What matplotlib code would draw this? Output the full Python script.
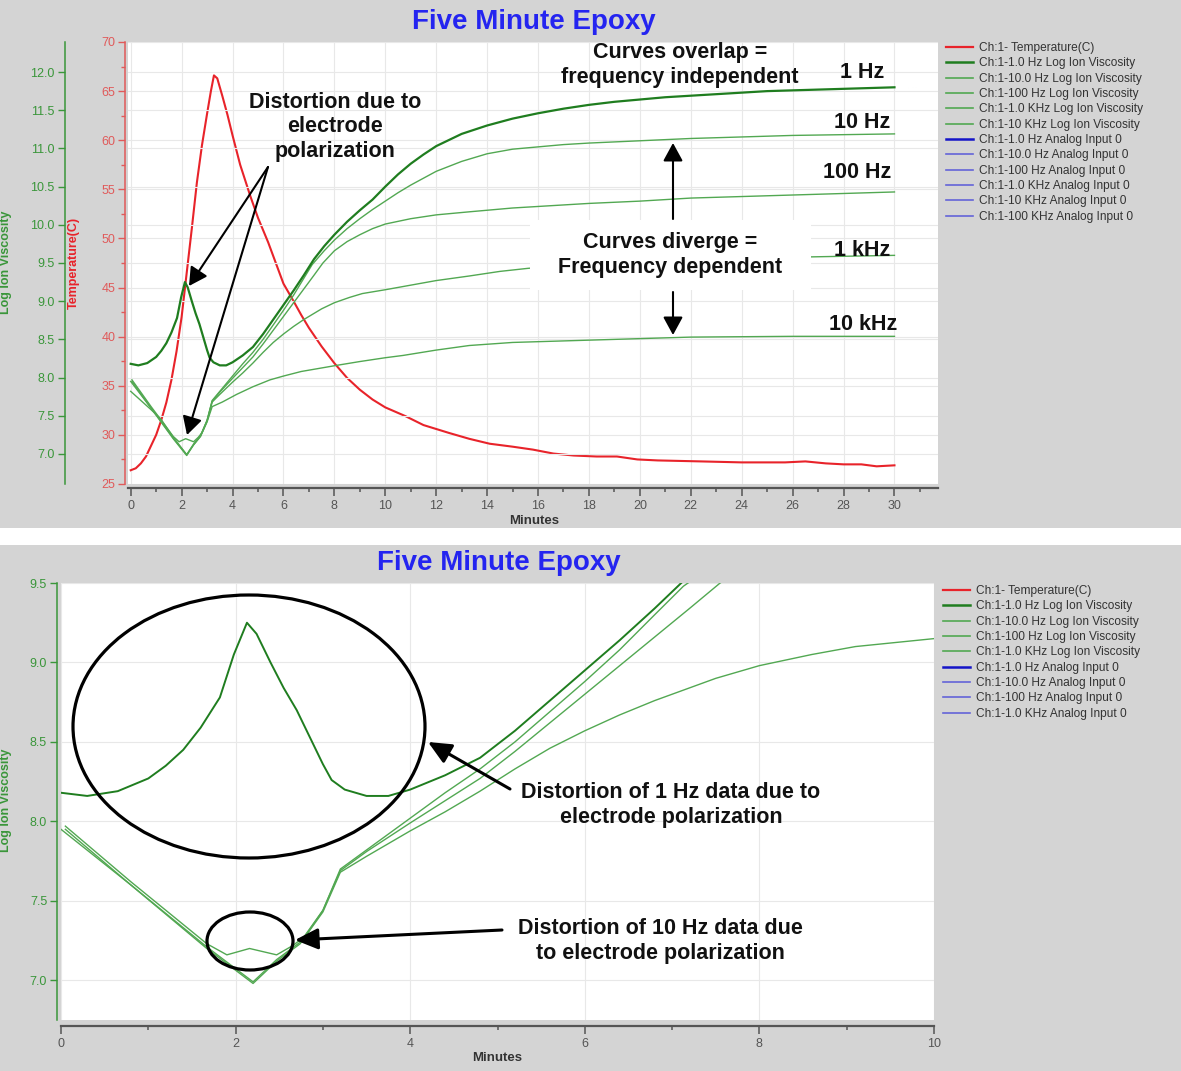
import matplotlib
matplotlib.use("Agg")
import matplotlib.pyplot as plt
from matplotlib.patches import Rectangle, Ellipse, FancyArrowPatch
from matplotlib.lines import Line2D
from matplotlib.ticker import FixedLocator, FormatStrFormatter

plt.rcParams['font.family'] = ['Liberation Sans', 'DejaVu Sans']

# ---------------- data ----------------
minutes_temp = [0.0, 0.2, 0.4, 0.6, 0.8, 1.0, 1.2, 1.4, 1.6, 1.8, 2.0, 2.2, 2.4, 2.6, 2.8,
                3.0, 3.15, 3.27, 3.4, 3.6, 3.8, 4.0, 4.3, 4.7, 5.0, 5.4, 5.7, 6.0, 6.4,
                6.7, 7.0, 7.5, 8.0, 8.5, 9.0, 9.5, 10.0, 10.8, 11.5, 12.5, 13.3, 14.1,
                15.0, 15.8, 16.6, 17.4, 18.3, 19.1, 19.9, 20.7, 22.4, 24.0, 25.7, 26.5,
                27.3, 28.0, 28.7, 29.3, 30.0]
temperature_c = [26.4, 26.6, 27.1, 27.8, 28.9, 30.0, 31.5, 33.3, 35.6, 38.5, 42.0, 46.5,
                 51.0, 55.7, 59.5, 62.7, 65.0, 66.6, 66.3, 64.5, 62.6, 60.5, 57.5, 54.3,
                 52.1, 49.6, 47.5, 45.4, 43.6, 42.2, 40.9, 39.0, 37.3, 35.8, 34.6, 33.6,
                 32.8, 31.9, 31.0, 30.2, 29.6, 29.1, 28.8, 28.5, 28.1, 27.9, 27.8, 27.8,
                 27.5, 27.4, 27.3, 27.2, 27.2, 27.3, 27.1, 27.0, 27.0, 26.8, 26.9]

minutes_1hz = [0.0, 0.3, 0.65, 1.0, 1.2, 1.4, 1.6, 1.82, 1.98, 2.13, 2.24, 2.4, 2.55, 2.7,
               2.85, 3.0, 3.1, 3.25, 3.5, 3.75, 4.0, 4.4, 4.8, 5.2, 5.6, 6.0, 6.4, 6.8,
               7.2, 7.6, 8.0, 8.5, 9.0, 9.5, 10.0, 10.5, 11.0, 11.5, 12.0, 13.0, 14.0,
               15.0, 16.0, 17.0, 18.0, 19.0, 20.0, 21.0, 22.0, 23.0, 24.0, 25.0, 26.0,
               27.0, 28.0, 29.0, 30.0]
liv_1hz = [8.18, 8.16, 8.19, 8.27, 8.35, 8.45, 8.59, 8.78, 9.05, 9.25, 9.18, 9.0, 8.84,
           8.70, 8.53, 8.36, 8.26, 8.20, 8.16, 8.16, 8.20, 8.29, 8.40, 8.57, 8.76, 8.95,
           9.14, 9.34, 9.55, 9.72, 9.87, 10.04, 10.19, 10.33, 10.50, 10.66, 10.80, 10.92,
           11.03, 11.19, 11.30, 11.39, 11.46, 11.52, 11.57, 11.61, 11.64, 11.67, 11.69,
           11.71, 11.73, 11.75, 11.76, 11.77, 11.78, 11.79, 11.80]

minutes_10hz = [0.05, 0.8, 1.67, 1.9, 2.16, 2.47, 2.66, 2.8, 3.0, 3.2, 3.5, 4.0, 4.4, 4.8,
                5.2, 5.6, 6.0, 6.4, 6.8, 7.13, 7.6, 8.0, 8.5, 9.0, 9.5, 10.0, 10.5, 11.0,
                12.0, 13.0, 14.0, 15.0, 16.0, 17.0, 18.0, 20.0, 22.0, 24.0, 26.0, 28.0, 30.0]
liv_10hz = [7.97, 7.62, 7.23, 7.16, 7.20, 7.16, 7.22, 7.28, 7.44, 7.70, 7.82, 8.02, 8.18,
            8.33, 8.50, 8.69, 8.88, 9.08, 9.30, 9.48, 9.66, 9.80, 9.95, 10.08, 10.20, 10.31,
            10.42, 10.52, 10.70, 10.83, 10.93, 10.99, 11.02, 11.05, 11.07, 11.10, 11.13,
            11.15, 11.17, 11.18, 11.19]

minutes_100hz = [0.05, 0.8, 1.67, 2.2, 2.47, 2.74, 3.0, 3.2, 3.5, 4.0, 4.4, 4.8, 5.2, 5.6,
                 6.0, 6.4, 6.8, 7.2, 7.55, 8.0, 8.5, 9.0, 9.5, 10.0, 11.0, 12.0, 13.3, 15.0,
                 16.0, 18.0, 20.0, 22.0, 24.0, 26.0, 28.0, 30.0]
liv_100hz = [7.95, 7.60, 7.21, 6.99, 7.13, 7.24, 7.44, 7.69, 7.81, 7.99, 8.13, 8.27, 8.44,
             8.62, 8.80, 8.98, 9.16, 9.34, 9.50, 9.66, 9.78, 9.87, 9.95, 10.01, 10.08,
             10.13, 10.17, 10.22, 10.24, 10.28, 10.31, 10.35, 10.37, 10.39, 10.41, 10.43]

minutes_1khz = [0.0, 0.8, 1.67, 2.2, 2.47, 2.74, 3.0, 3.2, 3.5, 4.0, 4.4, 4.8, 5.2, 5.6,
                6.0, 6.4, 6.8, 7.5, 8.0, 8.6, 9.1, 10.0, 11.0, 12.0, 13.3, 14.5, 15.6, 18.0,
                21.0, 24.0, 26.7, 30.0]
liv_1khz = [7.95, 7.60, 7.20, 6.98, 7.12, 7.23, 7.43, 7.68, 7.78, 7.94, 8.06, 8.19, 8.33,
            8.46, 8.57, 8.67, 8.76, 8.90, 8.98, 9.05, 9.10, 9.15, 9.21, 9.27, 9.33, 9.39,
            9.43, 9.49, 9.53, 9.56, 9.58, 9.60]

minutes_10khz = [0.0, 0.4, 0.8, 1.18, 1.67, 2.2, 2.47, 2.74, 3.0, 3.2, 3.6, 4.16, 4.8,
                 5.47, 6.0, 6.7, 8.09, 9.0, 10.0, 10.7, 12.0, 13.3, 15.0, 16.0, 18.0, 19.0,
                 22.0, 26.0, 30.0]
liv_10khz = [7.82, 7.70, 7.58, 7.46, 7.22, 6.99, 7.12, 7.23, 7.42, 7.62, 7.68, 7.78, 7.88,
             7.97, 8.02, 8.08, 8.16, 8.21, 8.26, 8.29, 8.36, 8.42, 8.46, 8.47, 8.49, 8.50,
             8.53, 8.54, 8.54]

top_legend_labels = ['Ch:1- Temperature(C)', 'Ch:1-1.0 Hz Log Ion Viscosity',
                     'Ch:1-10.0 Hz Log Ion Viscosity', 'Ch:1-100 Hz Log Ion Viscosity',
                     'Ch:1-1.0 KHz Log Ion Viscosity', 'Ch:1-10 KHz Log Ion Viscosity',
                     'Ch:1-1.0 Hz Analog Input 0', 'Ch:1-10.0 Hz Analog Input 0',
                     'Ch:1-100 Hz Analog Input 0', 'Ch:1-1.0 KHz Analog Input 0',
                     'Ch:1-10 KHz Analog Input 0', 'Ch:1-100 KHz Analog Input 0']
bottom_legend_labels = ['Ch:1- Temperature(C)', 'Ch:1-1.0 Hz Log Ion Viscosity',
                        'Ch:1-10.0 Hz Log Ion Viscosity', 'Ch:1-100 Hz Log Ion Viscosity',
                        'Ch:1-1.0 KHz Log Ion Viscosity', 'Ch:1-1.0 Hz Analog Input 0',
                        'Ch:1-10.0 Hz Analog Input 0', 'Ch:1-100 Hz Analog Input 0',
                        'Ch:1-1.0 KHz Analog Input 0']

title_text = 'Five Minute Epoxy'
minute_ticks_top = list(range(0, 31, 2))
minute_ticks_bottom = list(range(0, 11, 2))
temp_ticks = list(range(25, 71, 5))
liv_ticks_top = [7.0, 7.5, 8.0, 8.5, 9.0, 9.5, 10.0, 10.5, 11.0, 11.5, 12.0]
liv_ticks_bottom = [7.0, 7.5, 8.0, 8.5, 9.0, 9.5]

# ---------------- styles ----------------
W, H, DPI = 1181, 1071, 100
PANEL = '#d4d4d4'
GRID = '#e8e8e8'
RED = '#e8232a'
RED_AX = '#e05a5a'
GREEN_AX = '#3a963a'
DARK_GREEN = '#1f7d1f'
LIGHT_GREEN = '#52a852'
BLUE_DARK = '#1414c8'
BLUE_LIGHT = '#6464d8'
TITLE_BLUE = '#2424f0'
AXGRAY = '#555555'
ANN_FONT = 15.5


def F(x, y):
    return (x / W, 1 - y / H)


def box(l, t, r, b):
    return [l / W, 1 - b / H, (r - l) / W, (b - t) / H]


fig = plt.figure(figsize=(W / DPI, H / DPI), dpi=DPI, facecolor='white')
fig.add_artist(Rectangle((0, 1 - 528 / H), 1, 528 / H, transform=fig.transFigure,
                         fc=PANEL, ec='none', zorder=-10))
fig.add_artist(Rectangle((0, 0), 1, (H - 545) / H, transform=fig.transFigure,
                         fc=PANEL, ec='none', zorder=-10))

# ================= TOP PANEL =================
ax_t = fig.add_axes(box(128, 42, 938, 484))
ax_t.set_facecolor('white')
ax_t.set_xlim(-0.106, 31.71)
ax_t.set_ylim(25, 70)
ax_v = ax_t.twinx()
ax_v.set_ylim(6.607, 12.393)

ax_t.plot(minutes_temp, temperature_c, color=RED, lw=1.5, zorder=3)
ax_v.plot(minutes_10khz, liv_10khz, color=LIGHT_GREEN, lw=1.0)
ax_v.plot(minutes_1khz, liv_1khz, color=LIGHT_GREEN, lw=1.0)
ax_v.plot(minutes_100hz, liv_100hz, color=LIGHT_GREEN, lw=1.0)
ax_v.plot(minutes_10hz, liv_10hz, color=LIGHT_GREEN, lw=1.0)
ax_v.plot(minutes_1hz, liv_1hz, color=DARK_GREEN, lw=1.6)

# x axis
ax_t.xaxis.set_major_locator(FixedLocator(minute_ticks_top))
ax_t.xaxis.set_minor_locator(FixedLocator(list(range(1, 32))))
ax_t.tick_params(axis='x', which='major', length=5.5, width=1.1, color=AXGRAY,
                 labelcolor=AXGRAY, labelsize=9, pad=3)
ax_t.tick_params(axis='x', which='minor', length=3, width=1.1, color=AXGRAY)
ax_t.set_xlabel('Minutes', fontsize=9.5, fontweight='bold', color='#333333')
ax_t.xaxis.set_label_coords((534 - 128) / 810, (484 - 521) / 442)
ax_t.xaxis.label.set_va('center')

# temperature axis
ax_t.yaxis.set_major_locator(FixedLocator(temp_ticks))
ax_t.yaxis.set_minor_locator(FixedLocator([25 + 2.5 * i for i in range(19)]))
ax_t.tick_params(axis='y', which='major', length=5, width=1.0, color=RED_AX,
                 labelcolor=RED_AX, labelsize=9, pad=2)
ax_t.tick_params(axis='y', which='minor', length=3, width=1.0, color=RED_AX)
ax_t.set_ylabel('Temperature(C)', fontsize=9, fontweight='bold', color=RED)
ax_t.yaxis.set_label_coords((80 - 128) / 810, 0.5)

for s in ['top', 'right']:
    ax_t.spines[s].set_visible(False)
ax_t.spines['left'].set_position(('outward', 2.2))
ax_t.spines['left'].set_color(RED_AX)
ax_t.spines['left'].set_linewidth(1.1)
ax_t.spines['bottom'].set_position(('outward', 3))
ax_t.spines['bottom'].set_color(AXGRAY)
ax_t.spines['bottom'].set_linewidth(1.6)
ax_t.grid(True, which='major', color=GRID, lw=0.8)
ax_t.set_axisbelow(True)

# viscosity axis (left, outer)
ax_v.yaxis.tick_left()
ax_v.yaxis.set_label_position('left')
for s in ['top', 'right', 'bottom']:
    ax_v.spines[s].set_visible(False)
ax_v.spines['left'].set_visible(True)
ax_v.spines['left'].set_position(('outward', 63.5 * 0.72))
ax_v.spines['left'].set_color(GREEN_AX)
ax_v.spines['left'].set_linewidth(1.1)
ax_v.yaxis.set_major_locator(FixedLocator(liv_ticks_top))
ax_v.yaxis.set_major_formatter(FormatStrFormatter('%.1f'))
ax_v.tick_params(axis='y', which='major', length=5, width=1.0, color=GREEN_AX,
                 labelcolor=GREEN_AX, labelsize=9, pad=2)
ax_v.set_ylabel('Log Ion Viscosity', fontsize=9, fontweight='bold', color=GREEN_AX)
ax_v.yaxis.set_label_coords((12 - 128) / 810, (484 - 262) / 442)
ax_v.grid(True, axis='y', color=GRID, lw=0.8)
ax_v.set_axisbelow(True)

# ================= BOTTOM PANEL =================
ax_b = fig.add_axes(box(61, 583, 934, 1020))
ax_b.set_facecolor('white')
ax_b.set_xlim(0, 10)
ax_b.set_ylim(6.75, 9.5)
ax_b.plot(minutes_1khz, liv_1khz, color=LIGHT_GREEN, lw=1.0)
ax_b.plot(minutes_100hz, liv_100hz, color=LIGHT_GREEN, lw=1.0)
ax_b.plot(minutes_10hz, liv_10hz, color=LIGHT_GREEN, lw=1.0)
ax_b.plot(minutes_1hz, liv_1hz, color=DARK_GREEN, lw=1.4)

ax_b.xaxis.set_major_locator(FixedLocator(minute_ticks_bottom))
ax_b.xaxis.set_minor_locator(FixedLocator(list(range(1, 10))))
ax_b.yaxis.set_major_locator(FixedLocator(liv_ticks_bottom))
ax_b.yaxis.set_major_formatter(FormatStrFormatter('%.1f'))
ax_b.tick_params(axis='x', which='major', length=5.5, width=1.1, color=AXGRAY,
                 labelcolor=AXGRAY, labelsize=9, pad=3)
ax_b.tick_params(axis='x', which='minor', length=3, width=1.1, color=AXGRAY)
ax_b.tick_params(axis='y', which='major', length=5, width=1.0, color=GREEN_AX,
                 labelcolor=GREEN_AX, labelsize=9, pad=2)
for s in ['top', 'right']:
    ax_b.spines[s].set_visible(False)
ax_b.spines['left'].set_position(('outward', 3))
ax_b.spines['left'].set_color(GREEN_AX)
ax_b.spines['left'].set_linewidth(1.1)
ax_b.spines['bottom'].set_position(('outward', 4.5))
ax_b.spines['bottom'].set_color(AXGRAY)
ax_b.spines['bottom'].set_linewidth(1.6)
ax_b.grid(True, which='major', color=GRID, lw=0.8)
ax_b.set_axisbelow(True)
ax_b.set_ylabel('Log Ion Viscosity', fontsize=9, fontweight='bold', color=GREEN_AX)
ax_b.yaxis.set_label_coords((12 - 61) / 873, (1020 - 800) / 437)
ax_b.set_xlabel('Minutes', fontsize=9.5, fontweight='bold', color='#333333')
ax_b.xaxis.set_label_coords((497 - 61) / 873, (1020 - 1058) / 437)
ax_b.xaxis.label.set_va('center')

# ================= titles =================
fig.text(*F(534, 22), title_text, ha='center', va='center', fontsize=20,
         fontweight='bold', color=TITLE_BLUE)
fig.text(*F(499, 563), title_text, ha='center', va='center', fontsize=20,
         fontweight='bold', color=TITLE_BLUE)

# ================= legends =================
top_colors = [RED, DARK_GREEN, LIGHT_GREEN, LIGHT_GREEN, LIGHT_GREEN, LIGHT_GREEN,
              BLUE_DARK, BLUE_LIGHT, BLUE_LIGHT, BLUE_LIGHT, BLUE_LIGHT, BLUE_LIGHT]
top_widths = [1.6, 1.8, 1.2, 1.2, 1.2, 1.2, 1.8, 1.2, 1.2, 1.2, 1.2, 1.2]
bottom_colors = [RED, DARK_GREEN, LIGHT_GREEN, LIGHT_GREEN, LIGHT_GREEN,
                 BLUE_DARK, BLUE_LIGHT, BLUE_LIGHT, BLUE_LIGHT]
bottom_widths = [1.6, 1.8, 1.2, 1.2, 1.2, 1.8, 1.2, 1.2, 1.2]

leg_kw = dict(loc='upper left', frameon=False, fontsize=8.6, handlelength=2.3,
              handletextpad=0.5, labelspacing=0.28, borderaxespad=0, borderpad=0,
              labelcolor='#333333')
fig.legend([Line2D([], [], color=c, lw=w) for c, w in zip(top_colors, top_widths)],
           top_legend_labels, bbox_to_anchor=F(946, 42), **leg_kw)
fig.legend([Line2D([], [], color=c, lw=w) for c, w in zip(bottom_colors, bottom_widths)],
           bottom_legend_labels, bbox_to_anchor=F(943, 585), **leg_kw)

# ================= annotations =================
txt_kw = dict(ha='center', va='center', fontsize=ANN_FONT, fontweight='bold',
              color='#111111', linespacing=1.24, zorder=5)


def arrow(tail, head, lw=1.5, hl=0.55, hw=0.3, ms=20):
    fig.add_artist(FancyArrowPatch(F(*tail), F(*head), transform=fig.transFigure,
                                   arrowstyle=f'-|>,head_length={hl},head_width={hw}',
                                   mutation_scale=ms, lw=lw, color='black',
                                   shrinkA=0, shrinkB=0, zorder=6))


fig.text(*F(335, 127), 'Distortion due to\nelectrode\npolarization', **txt_kw)
arrow((268, 167), (189, 286))
arrow((268, 167), (187, 435))

fig.text(*F(680, 65), 'Curves overlap =\nfrequency independent', **txt_kw)
fig.text(*F(862, 72), '1 Hz', **txt_kw)
fig.text(*F(862, 122), '10 Hz', **txt_kw)
fig.text(*F(857, 173), '100 Hz', **txt_kw)
fig.text(*F(862, 250), '1 kHz', **txt_kw)
fig.text(*F(863, 324), '10 kHz', **txt_kw)

fig.add_artist(Rectangle(F(530, 290), (811 - 530) / W, 70 / H, transform=fig.transFigure,
                         fc='white', ec='none', zorder=1))
fig.text(*F(670, 255), 'Curves diverge =\nFrequency dependent', **txt_kw)
arrow((673, 219), (673, 143))
arrow((673, 292), (673, 335))

# bottom annotations
fig.add_artist(Ellipse(F(249, 726.5), 352 / W, 263 / H, transform=fig.transFigure,
                       fill=False, ec='black', lw=2.3, zorder=4))
fig.add_artist(Ellipse(F(250, 941), 86 / W, 58 / H, transform=fig.transFigure,
                       fill=False, ec='black', lw=2.3, zorder=4))
fig.text(*F(671, 805), 'Distortion of 1 Hz data due to\nelectrode polarization', **txt_kw)
fig.text(*F(660, 941), 'Distortion of 10 Hz data due\nto electrode polarization', **txt_kw)
arrow((510, 789), (428, 742), lw=2.2, hl=0.7, hw=0.32)
arrow((502, 930), (295, 940), lw=2.2, hl=0.7, hw=0.32)

fig.savefig('out.png', dpi=DPI, facecolor='white')
